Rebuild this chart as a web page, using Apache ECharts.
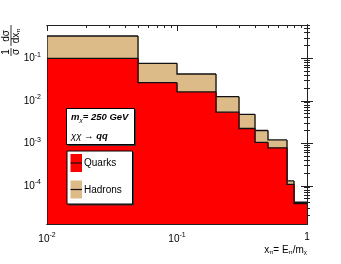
<!DOCTYPE html>
<html><head><meta charset="utf-8">
<script src="https://cdn.jsdelivr.net/npm/echarts@6/dist/echarts.min.js"></script>
<style>html,body{margin:0;padding:0;background:#fff}#c{width:341px;height:264px}</style>
</head><body><div id="c"></div>
<script>
// ---- data ----
const binEdges = [0.01, 0.05, 0.1, 0.2, 0.3, 0.4, 0.5, 0.7, 0.8, 1.0];
const quarks   = [0.100, 0.0267, 0.0162, 0.0054, 0.00223, 0.00105, 0.00078, 0.000108, 0.000038];
const hadrons  = [0.335, 0.076, 0.0427, 0.0125, 0.0048, 0.0020, 0.0012, 0.00013, 0.000041];
const xMajorTicks = [0.01, 0.1, 1];
const xTickLabels = ['10{sup|-2}', '10{sup|-1}', '1'];
const yMajorTicks = [1e-4, 1e-3, 1e-2, 1e-1];
const yTickLabels = ['10{sup|-4}', '10{sup|-3}', '10{sup|-2}', '10{sup|-1}'];
const xRange = [0.01, 1];
const yRange = [1.26e-5, 0.608];

// ---- helpers ----
const L = Math.log10;
const LX = xRange.map(L), LY = yRange.map(L);
function minorTicks(lo, hi) {
  const out = [];
  for (let n = Math.floor(lo) - 1; n <= Math.ceil(hi); n++)
    for (let k = 2; k <= 9; k++) { const v = n + L(k); if (v > lo + 1e-9 && v < hi - 1e-9) out.push(v); }
  return out;
}
const xMaj = xMajorTicks.map(L), yMaj = yMajorTicks.map(L);
const xMin = minorTicks(LX[0], LX[1]), yMin = minorTicks(LY[0], LY[1]);
const lineCol = '#222';
const F = 'Liberation Sans, Arial';
const richSup = { sup: { fontSize: 7, padding: [0, 0, 7, 0], fontFamily: F } };

function xAxisDef(pos, ticks, len, showLabel, labels) {
  return {
    type: 'value', position: pos, min: LX[0], max: LX[1],
    axisLine: { show: true, lineStyle: { color: lineCol, width: 1 } },
    axisTick: { show: true, inside: true, length: len, customValues: ticks, lineStyle: { color: lineCol, width: 1 } },
    axisLabel: showLabel ? {
      show: true, customValues: ticks, margin: 8, color: '#000', fontSize: 10, fontFamily: F,
      formatter: v => labels[ticks.findIndex(t => Math.abs(t - v) < 1e-6)] || '', rich: richSup
    } : { show: false },
    splitLine: { show: false }
  };
}
function yAxisDef(pos, ticks, len, showLabel, labels) {
  return {
    type: 'value', position: pos, min: LY[0], max: LY[1],
    axisLine: { show: true, lineStyle: { color: lineCol, width: 1 } },
    axisTick: { show: true, inside: true, length: len, customValues: ticks, lineStyle: { color: lineCol, width: 1 } },
    axisLabel: showLabel ? {
      show: true, customValues: ticks, margin: 6, color: '#000', fontSize: 10, fontFamily: F,
      formatter: v => labels[ticks.findIndex(t => Math.abs(t - v) < 1e-6)] || '', rich: richSup
    } : { show: false },
    splitLine: { show: false }
  };
}

function makeHist(vals, color, z) {
  return {
    type: 'custom', xAxisIndex: 0, yAxisIndex: 0, z: z, clip: true, silent: true,
    data: vals.map((v, i) => [L(binEdges[i]), L(binEdges[i + 1]), L(v), i > 0 ? L(vals[i - 1]) : LY[0]]),
    renderItem(params, api) {
      const x0 = api.value(0), x1 = api.value(1), y = api.value(2), yp = api.value(3);
      const p0 = api.coord([x0, y]), p1 = api.coord([x1, y]), pb = api.coord([x0, LY[0]]), pp = api.coord([x0, yp]);
      const ax = Math.round(p0[0]), bx = Math.round(p1[0]);
      return { type: 'group', children: [
        { type: 'rect', shape: { x: ax, y: p0[1], width: bx - ax + 0.6, height: pb[1] - p0[1] }, style: { fill: color } },
        { type: 'polyline', shape: { points: [[ax, pp[1]], [ax, p0[1]], [bx, p1[1]]] }, style: { stroke: '#111', lineWidth: 1.3, fill: null } }
      ] };
    }
  };
}

const chart = echarts.init(document.getElementById('c'), null, { renderer: 'canvas' });
chart.setOption({
  animation: false,
  backgroundColor: '#fff',
  grid: { left: 47, right: 34, top: 25, bottom: 40, containLabel: false },
  xAxis: [
    xAxisDef('bottom', xMaj, 6, true, xTickLabels),
    xAxisDef('bottom', xMin, 3, false),
    xAxisDef('top', xMaj, 6, false),
    xAxisDef('top', xMin, 3, false)
  ],
  yAxis: [
    yAxisDef('left', yMaj, 6, true, yTickLabels),
    yAxisDef('left', yMin, 3, false),
    yAxisDef('right', yMaj, 6, false),
    yAxisDef('right', yMin, 3, false)
  ],
  series: [makeHist(hadrons, '#dcbb88', 2), makeHist(quarks, '#ff0000', 3)],
  graphic: [
    // y axis title, rotated
    { type: 'group', x: 11, y: 56, rotation: Math.PI / 2, z: 10, children: [
      { type: 'text', x: 4, y: -5, style: { text: '1', font: '10px ' + F, fill: '#000', align: 'center', verticalAlign: 'middle' } },
      { type: 'line', shape: { x1: 0, y1: 0, x2: 8, y2: 0 }, style: { stroke: '#000', lineWidth: 0.8 } },
      { type: 'text', x: 4, y: 5, style: { text: 'σ', font: '10px ' + F, fill: '#000', align: 'center', verticalAlign: 'middle' } },
      { type: 'text', x: 20, y: -5, style: { text: 'dσ', font: '10px ' + F, fill: '#000', align: 'center', verticalAlign: 'middle' } },
      { type: 'line', shape: { x1: 10, y1: 0, x2: 31, y2: 0 }, style: { stroke: '#000', lineWidth: 0.8 } },
      { type: 'text', x: 20, y: 5, style: { text: '{n|dx}{s|π}', fill: '#000', align: 'center', verticalAlign: 'middle',
        rich: { n: { fontSize: 10, fontFamily: F }, s: { fontSize: 6, fontFamily: F, padding: [5, 0, 0, 0] } } } }
    ] },
    // x axis title
    { type: 'text', right: 34, top: 245, z: 10, style: { text: '{n|x}{s|π}{n|= E}{s|π}{n|/m}{s|χ}', fill: '#000',
      rich: { n: { fontSize: 10, fontFamily: F }, s: { fontSize: 6, fontFamily: F, padding: [5, 0, 0, 0] } } } },
    // info box
    { type: 'rect', z: 10, shape: { x: 68, y: 110, width: 68, height: 36 }, style: { fill: '#333' } },
    { type: 'rect', z: 11, shape: { x: 66.5, y: 108.5, width: 68, height: 36 }, style: { fill: '#fff', stroke: '#000', lineWidth: 1 } },
    { type: 'text', z: 12, x: 71, y: 117.7, style: { text: '{b|m}{s|χ}{b|= 250 GeV}', fill: '#000', verticalAlign: 'middle',
      rich: { b: { fontSize: 9.5, fontWeight: 'bold', fontStyle: 'italic', fontFamily: F },
              s: { fontSize: 6, fontStyle: 'italic', fontFamily: F, padding: [5, 0, 0, 0] } } } },
    { type: 'text', z: 12, x: 71, y: 136, style: { text: '{i|χχ}{n| → }{b|qq}', fill: '#000', verticalAlign: 'middle',
      rich: { i: { fontSize: 9.5, fontStyle: 'italic', fontFamily: F }, n: { fontSize: 9.5, fontFamily: F },
              b: { fontSize: 9.5, fontWeight: 'bold', fontStyle: 'italic', fontFamily: F } } } },
    // legend box
    { type: 'rect', z: 10, shape: { x: 68.5, y: 152.5, width: 65.5, height: 53 }, style: { fill: '#333' } },
    { type: 'rect', z: 11, shape: { x: 67, y: 151, width: 65.5, height: 53 }, style: { fill: '#fff', stroke: '#000', lineWidth: 1 } },
    { type: 'rect', z: 12, shape: { x: 70.5, y: 154, width: 11.5, height: 18 }, style: { fill: '#ff0000' } },
    { type: 'line', z: 13, shape: { x1: 70.5, y1: 163, x2: 82, y2: 163 }, style: { stroke: '#111', lineWidth: 1.2 } },
    { type: 'text', z: 12, x: 84, y: 163, style: { text: 'Quarks', font: '10px ' + F, fill: '#000', verticalAlign: 'middle' } },
    { type: 'rect', z: 12, shape: { x: 70.5, y: 180.5, width: 11.5, height: 18 }, style: { fill: '#dcbb88' } },
    { type: 'line', z: 13, shape: { x1: 70.5, y1: 189.5, x2: 82, y2: 189.5 }, style: { stroke: '#111', lineWidth: 1.2 } },
    { type: 'text', z: 12, x: 84, y: 190, style: { text: 'Hadrons', font: '10px ' + F, fill: '#000', verticalAlign: 'middle' } }
  ]
});
</script></body></html>
